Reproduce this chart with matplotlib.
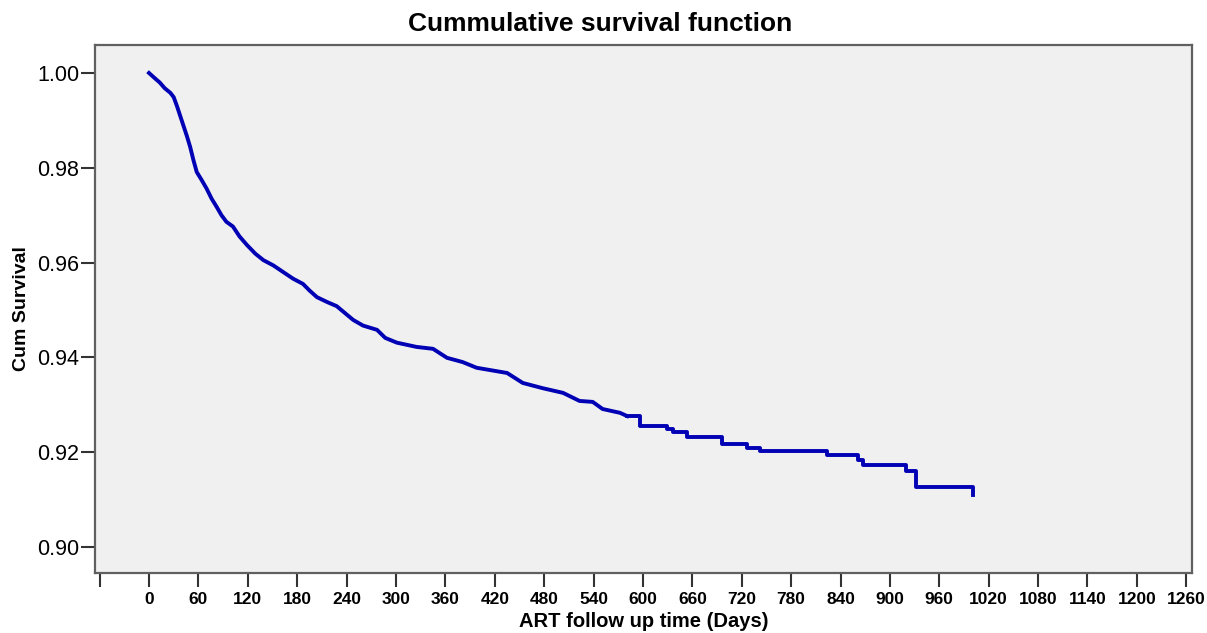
import matplotlib.pyplot as plt
import numpy as np

# smooth-looking part of the curve (days, cumulative survival)
days_early = [0, 7, 13, 19, 26, 30, 34, 38, 42, 46, 50, 54, 58, 64, 70, 76, 82, 88, 94,
              102, 110, 119, 129, 139, 151, 163, 175, 187, 195, 204, 216, 228,
              248, 260, 277, 287, 301, 325, 345, 362, 381, 398, 435, 454, 478, 503,
              523, 539, 551, 572, 581]
surv_early = [1.0000, 0.9989, 0.9980, 0.9968, 0.9958, 0.9949, 0.9930, 0.9909, 0.9888, 0.9867,
              0.9844, 0.9816, 0.9791, 0.9774, 0.9756, 0.9735, 0.9718, 0.9700, 0.9686,
              0.9676, 0.9655, 0.9637, 0.9619, 0.9605, 0.9594, 0.9580, 0.9566, 0.9555,
              0.9541, 0.9527, 0.9517, 0.9508,
              0.9479, 0.9467, 0.9458, 0.9441, 0.9431, 0.9422, 0.9418, 0.9399, 0.9390,
              0.9378, 0.9367, 0.9346, 0.9335, 0.9325, 0.9308, 0.9306, 0.9291, 0.9283,
              0.9276]

# later part with visible steps
days_late = [581, 596, 629, 636, 653, 696, 727, 742, 823, 861, 867, 919, 932, 1001]
surv_late = [0.9276, 0.9255, 0.9249, 0.9242, 0.9232, 0.9217, 0.9209, 0.9202, 0.9194,
             0.9183, 0.9173, 0.9160, 0.9126, 0.9109]

xticks = list(range(-60, 1261, 60))
xticklabels = [''] + [str(t) for t in xticks[1:]]
yticks = [0.90, 0.92, 0.94, 0.96, 0.98, 1.00]

plt.rcParams['font.family'] = ['Liberation Sans', 'DejaVu Sans']

fig = plt.figure(figsize=(12.07, 6.33), dpi=100)
ax = fig.add_axes([0.0787, 0.0948, 0.9089, 0.8341])
ax.set_facecolor('#f0f0f0')

col = '#0000b4'
ax.plot(days_early, surv_early, color=col, lw=2.8, solid_joinstyle='round')
ax.plot(days_late, surv_late, color=col, lw=2.8, drawstyle='steps-post')

ax.set_xlim(-65.6, 1267)
ax.set_ylim(0.8945, 1.0059)
ax.set_xticks(xticks)
ax.set_xticklabels(xticklabels, fontsize=12.5, fontweight='bold')
ax.set_yticks(yticks)
ax.set_yticklabels(['%.2f' % v for v in yticks], fontsize=15.5)

for s in ax.spines.values():
    s.set_color('#606060')
    s.set_linewidth(1.6)
ax.tick_params(axis='both', direction='out', length=10, width=1.5, color='#333333')
ax.tick_params(axis='x', pad=4)
ax.tick_params(axis='y', pad=1.5)

fig.text(0.497, 0.962, 'Cummulative survival function', fontsize=19, fontweight='bold',
         ha='center', va='center')
ax.set_xlabel('ART follow up time (Days)', fontsize=14.5, fontweight='bold', labelpad=3)
ax.set_ylabel('Cum Survival', fontsize=14, fontweight='bold', labelpad=5)

fig.savefig('out.png', dpi=100)
